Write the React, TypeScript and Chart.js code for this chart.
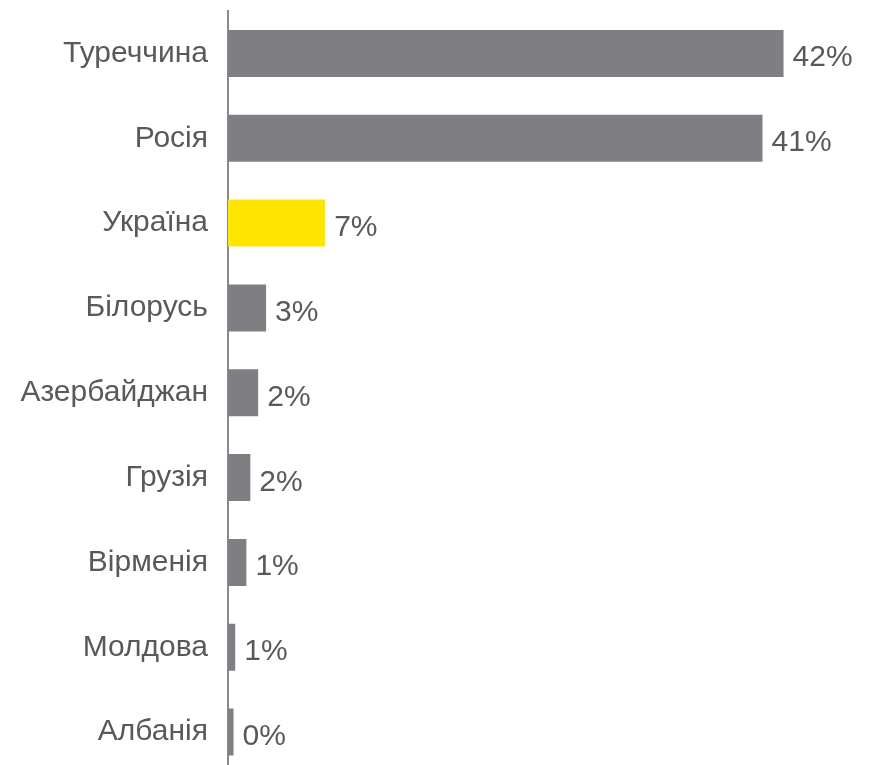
import React, { useEffect, useRef } from "react";
import { Chart, registerables } from "chart.js";

Chart.register(...registerables);

const categories = ["Туреччина", "Росія", "Україна", "Білорусь", "Азербайджан", "Грузія", "Вірменія", "Молдова", "Албанія"];
const values = [42.3, 40.7, 7.4, 2.9, 2.3, 1.7, 1.4, 0.55, 0.42];
const valueLabels = ["42%", "41%", "7%", "3%", "2%", "2%", "1%", "1%", "0%"];
const highlight = "Україна";

const GRAY = "#7f7e83";
const YELLOW = "#ffe600";
const TEXT = "#595959";
const FONT = "Arial, 'Liberation Sans', sans-serif";

const labelPlugin = {
  id: "valueLabels",
  afterDatasetsDraw(chart: any) {
    const ctx = chart.ctx;
    const meta = chart.getDatasetMeta(0);
    ctx.save();
    ctx.font = `30px ${FONT}`;
    ctx.fillStyle = TEXT;
    ctx.textAlign = "left";
    ctx.textBaseline = "alphabetic";
    meta.data.forEach((bar: any, i: number) => {
      ctx.fillText(valueLabels[i], bar.x + 9, bar.y + 13);
    });
    ctx.restore();
  },
};

export default function App() {
  const ref = useRef<HTMLCanvasElement | null>(null);
  useEffect(() => {
    if (!ref.current) return;
    const chart = new Chart(ref.current, {
      type: "bar",
      data: {
        labels: categories,
        datasets: [
          {
            data: values,
            backgroundColor: categories.map((c) => (c === highlight ? YELLOW : GRAY)),
            borderWidth: 0,
            barPercentage: 0.554,
            categoryPercentage: 1,
          },
        ],
      },
      options: {
        indexAxis: "y",
        responsive: false,
        animation: false,
        events: [],
        layout: { padding: { top: 11, bottom: 5.5, left: 0, right: 15.6 } },
        plugins: { legend: { display: false }, tooltip: { enabled: false } },
        scales: {
          x: { display: false, min: 0, max: 48 },
          y: {
            afterFit: (scale: any) => {
              scale.width = 228;
              scale.paddingTop = 0;
              scale.paddingBottom = 0;
            },
            grid: { display: false, drawTicks: false, tickLength: 0 },
            border: { display: true, color: "#8a8a8e", width: 2 },
            ticks: {
              padding: 20,
              color: TEXT,
              font: { family: FONT, size: 30 },
              autoSkip: false,
            },
          },
        },
      },
      plugins: [labelPlugin],
    });
    return () => chart.destroy();
  }, []);
  return (
    <div style={{ position: "absolute", left: 0, top: 0, width: 874, height: 765, overflow: "hidden", background: "#fff" }}>
      <canvas ref={ref} width={874} height={780} style={{ display: "block" }} />
    </div>
  );
}
